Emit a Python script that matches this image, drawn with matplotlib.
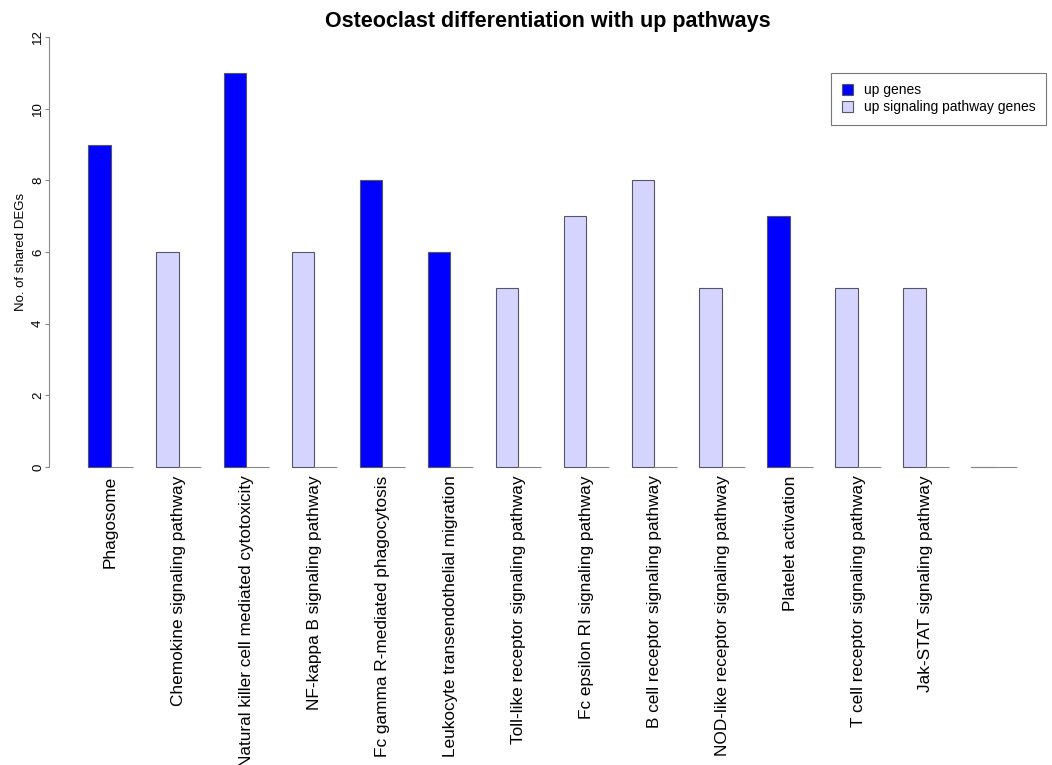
import numpy as np
import matplotlib.pyplot as plt
from matplotlib.patches import Patch

# pathway names (last group left blank) and shared DEG counts
pathways = ["Phagosome", "Chemokine signaling pathway",
            "Natural killer cell mediated cytotoxicity", "NF-kappa B signaling pathway",
            "Fc gamma R-mediated phagocytosis", "Leukocyte transendothelial migration",
            "Toll-like receptor signaling pathway", "Fc epsilon RI signaling pathway",
            "B cell receptor signaling pathway", "NOD-like receptor signaling pathway",
            "Platelet activation", "T cell receptor signaling pathway",
            "Jak-STAT signaling pathway", ""]
shared_degs = [9, 6, 11, 6, 8, 6, 5, 7, 8, 5, 7, 5, 5, 0]
empty_bar = [0] * len(pathways)
# 1 = up genes, 0 = up signaling pathway genes
is_up_gene = [1, 0, 1, 0, 1, 1, 0, 0, 0, 0, 1, 0, 0, 0]

blue = "#0000FF"
lav = "#D4D4FF"
edge = "#555566"
plt.rcParams["font.family"] = ["Liberation Sans", "DejaVu Sans"]

fig = plt.figure(figsize=(10.52, 7.65), dpi=100)
ax = fig.add_axes([49/1052, (765-467)/765, (1046-49)/1052, 430/765])

# R barplot style: bar width 1, beside=TRUE, space=c(0,1)
n = len(pathways)
left1 = np.arange(n) * 3 + 1
cols = [blue if u else lav for u in is_up_gene]
ax.bar(left1, shared_degs, width=1, align="edge", color=cols, edgecolor=edge, linewidth=0.8, clip_on=False)
ax.bar(left1 + 1, empty_bar, width=1, align="edge", color=cols, edgecolor="#888888", linewidth=0.8, clip_on=False)
for i in range(n):
    if shared_degs[i] == 0:
        ax.plot([left1[i], left1[i] + 1], [0, 0], color="#888888", lw=0.8, clip_on=False)

ax.set_xlim(-0.72, 43.3)
ax.set_ylim(0, 12)
for s in ["top", "right", "bottom"]:
    ax.spines[s].set_visible(False)
ax.spines["left"].set_color("#888888")
ax.set_yticks(np.arange(0, 13, 2))
ax.tick_params(axis="y", length=3, color="#888888", labelsize=9.5, pad=0.5)
for t in ax.get_yticklabels():
    t.set_rotation(90)
    t.set_va("center")
ax.set_ylabel("No. of shared DEGs", fontsize=9.5, labelpad=4)

ax.set_xticks(left1 + 1)
ax.set_xticklabels(pathways, rotation=90, fontsize=12.4)
ax.tick_params(axis="x", length=0, pad=6)

ax.set_title("Osteoclast differentiation with up pathways", fontsize=15.5, fontweight="bold", pad=7)

handles = [Patch(facecolor=blue, edgecolor=edge, linewidth=0.8, label="up genes"),
           Patch(facecolor=lav, edgecolor=edge, linewidth=0.8, label="up signaling pathway genes")]
leg = ax.legend(handles=handles, loc="upper right", bbox_to_anchor=(1.0, (467-73)/430),
                borderaxespad=0, fontsize=10, fancybox=False, framealpha=1, edgecolor="#777777",
                handlelength=0.8, handleheight=0.8, handletextpad=0.8, borderpad=0.75,
                labelspacing=0.2)
leg.get_frame().set_linewidth(0.8)

fig.savefig("out.png", dpi=100)
